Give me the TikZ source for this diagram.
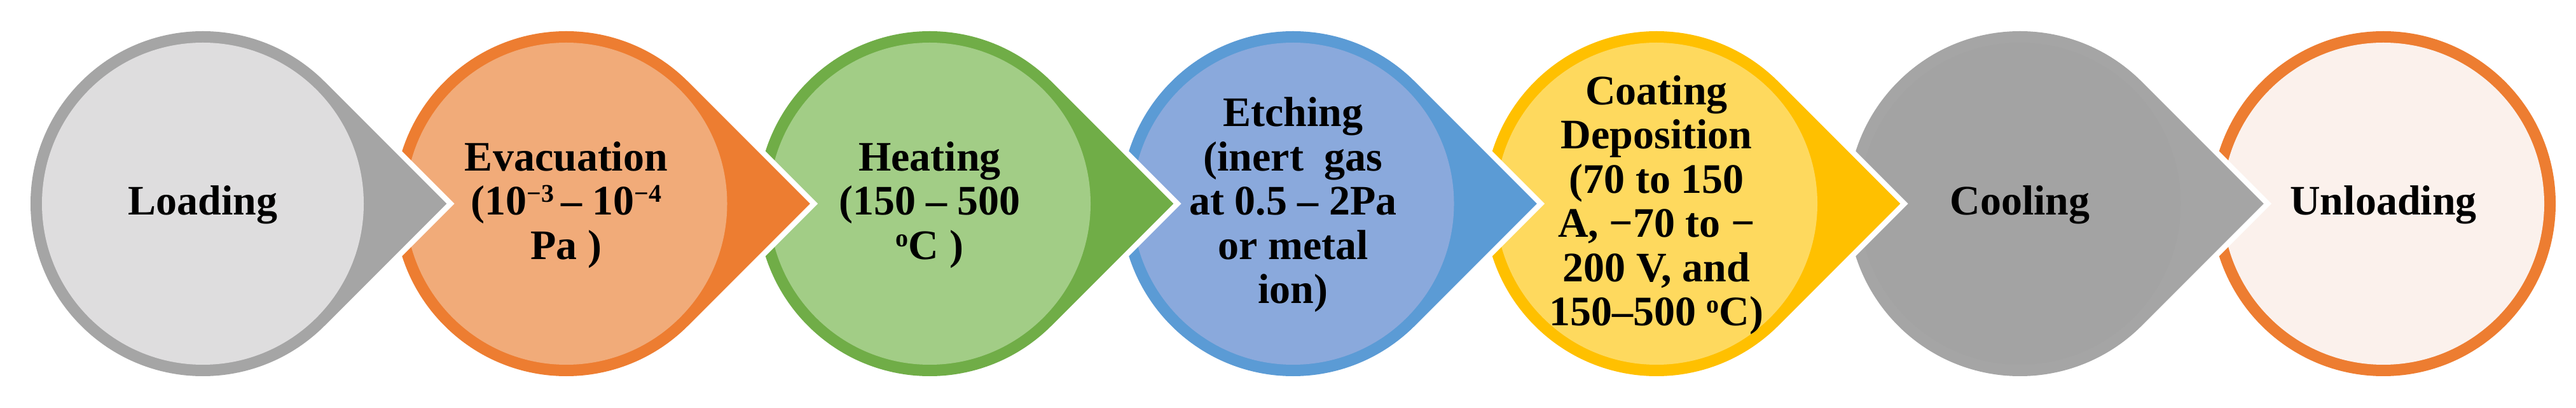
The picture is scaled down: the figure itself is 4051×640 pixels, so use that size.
\documentclass[tikz,border=0pt]{standalone}
\usepackage{fontspec}
\setmainfont{Liberation Serif}
\usetikzlibrary{calc}
\definecolor{grayB}{HTML}{A5A5A5}
\definecolor{loadF}{HTML}{DEDDDE}
\definecolor{orangeB}{HTML}{ED7D31}
\definecolor{evacF}{HTML}{F1AB79}
\definecolor{greenB}{HTML}{70AD47}
\definecolor{heatF}{HTML}{A2CD86}
\definecolor{blueB}{HTML}{5B9BD5}
\definecolor{etchF}{HTML}{8AA9DC}
\definecolor{yellowB}{HTML}{FFC000}
\definecolor{coatF}{HTML}{FED95E}
\definecolor{coolF}{HTML}{A3A3A3}
\definecolor{unloadF}{HTML}{FBF1EC}
\newcommand\teardrop[3]{%
  \fill[white] ($(#1)+(45:279.8pt)$) arc[start angle=45,end angle=315,radius=279.8pt] -- ($(#1)+(395.7pt,0pt)$) -- cycle;
  \fill[#2] ($(#1)+(45:271pt)$) arc[start angle=45,end angle=315,radius=271pt] -- ($(#1)+(383.25pt,0pt)$) -- cycle;
  \fill[#3] (#1) circle[radius=253pt];}
\newcommand\supr[1]{\raisebox{20pt}{\fontsize{40pt}{40pt}\selectfont #1}}
\begin{document}
\begin{tikzpicture}[x=1pt,y=1pt,
  lbl/.style={align=center,font=\fontsize{66pt}{69.5pt}\selectfont\bfseries,inner sep=0pt,yshift=-2pt}]
\useasboundingbox (0,0) rectangle (4051,640);
\foreach \n/\x in {c1/319,c2/890.5,c3/1462,c4/2033.5,c5/2605,c6/3176.5,c7/3748}
  \coordinate (\n) at (\x,320);
% last shape first, so each arrow tip lies over the next circle
\fill[orangeB] (c7) circle[radius=271pt];
\fill[unloadF] (c7) circle[radius=253pt];
\teardrop{c6}{grayB}{coolF}
\teardrop{c5}{yellowB}{coatF}
\teardrop{c4}{blueB}{etchF}
\teardrop{c3}{greenB}{heatF}
\teardrop{c2}{orangeB}{evacF}
\teardrop{c1}{grayB}{loadF}
\node[lbl] (t1) at (c1) {Loading};
\node[lbl] (t2) at (c2) {Evacuation\\(10\supr{−3}\,– 10\supr{−4}\\Pa )};
\node[lbl] (t3) at (c3) {Heating\\(150 – 500\\\supr{o}C )};
\node[lbl] (t4) at (c4) {Etching\\(inert~~gas\\at 0.5 – 2Pa\\or metal\\ion)};
\node[lbl] (t5) at (c5) {Coating\\Deposition\\(70 to 150\\A, −70 to −\\200 V, and\\150–500 \supr{o}C)};
\node[lbl] (t6) at (c6) {Cooling};
\node[lbl] (t7) at (c7) {Unloading};
\end{tikzpicture}
\end{document}
